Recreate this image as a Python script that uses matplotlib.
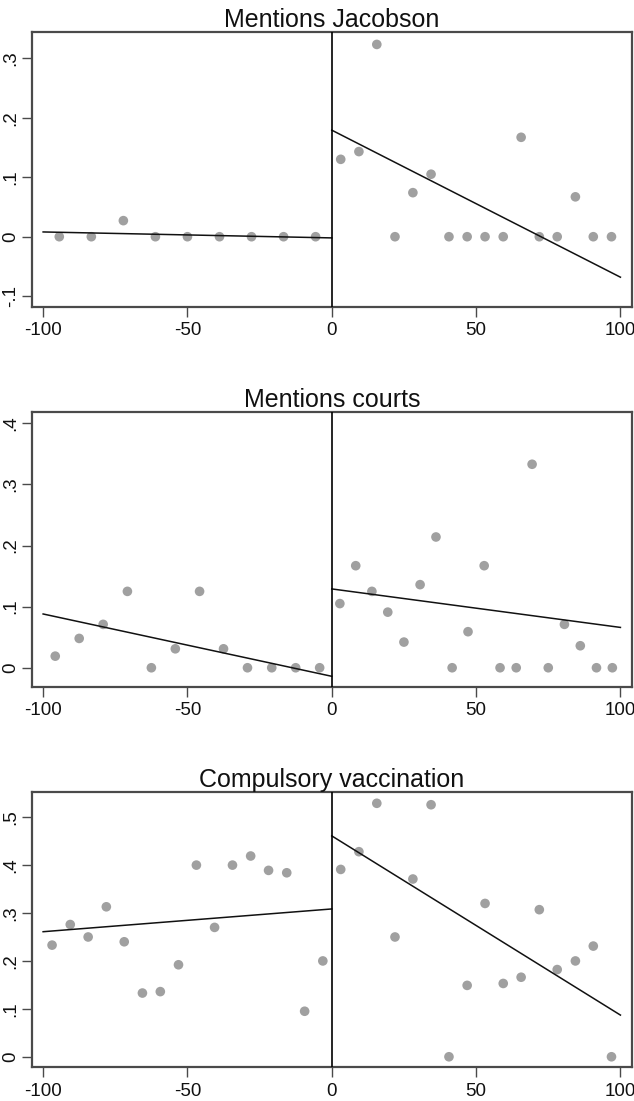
import matplotlib
matplotlib.use("Agg")
import matplotlib.pyplot as plt
from matplotlib.ticker import FuncFormatter

plt.rcParams['font.family'] = ['Liberation Sans', 'DejaVu Sans']

titles = ["Mentions Jacobson", "Mentions courts", "Compulsory vaccination"]

# Panel 1: Mentions Jacobson
p1_left_x = [-94.4, -83.3, -72.2, -61.1, -50.0, -38.9, -27.8, -16.7, -5.6]
p1_left_y = [0, 0, 0.027, 0, 0, 0, 0, 0, 0]
p1_right_x = [3.1, 9.4, 15.6, 21.9, 28.1, 34.4, 40.6, 46.9, 53.1, 59.4, 65.6, 71.9, 78.1, 84.4, 90.6, 96.9]
p1_right_y = [0.130, 0.143, 0.323, 0, 0.074, 0.105, 0, 0, 0, 0, 0.167, 0, 0, 0.067, 0, 0]
p1_fit_left = [0.008, -0.002]
p1_fit_right = [0.179, -0.068]

# Panel 2: Mentions courts
p2_left_x = [-95.8, -87.5, -79.2, -70.8, -62.5, -54.2, -45.8, -37.5, -29.2, -20.8, -12.5, -4.2]
p2_left_y = [0.019, 0.048, 0.071, 0.125, 0, 0.031, 0.125, 0.031, 0, 0, 0, 0]
p2_right_x = [2.8, 8.3, 13.9, 19.4, 25.0, 30.6, 36.1, 41.7, 47.2, 52.8, 58.3, 63.9, 69.4, 75.0, 80.6, 86.1, 91.7, 97.2]
p2_right_y = [0.105, 0.167, 0.125, 0.091, 0.042, 0.136, 0.214, 0, 0.059, 0.167, 0, 0, 0.333, 0, 0.071, 0.036, 0, 0]
p2_fit_left = [0.088, -0.014]
p2_fit_right = [0.129, 0.066]

# Panel 3: Compulsory vaccination
p3_left_x = [-96.9, -90.6, -84.4, -78.1, -71.9, -65.6, -59.4, -53.1, -46.9, -40.6, -34.4, -28.1, -21.9, -15.6, -9.4, -3.1]
p3_left_y = [0.233, 0.276, 0.250, 0.313, 0.240, 0.133, 0.136, 0.192, 0.400, 0.270, 0.400, 0.419, 0.389, 0.384, 0.095, 0.200]
p3_right_x = [3.1, 9.4, 15.6, 21.9, 28.1, 34.4, 40.6, 46.9, 53.1, 59.4, 65.6, 71.9, 78.1, 84.4, 90.6, 96.9]
p3_right_y = [0.391, 0.428, 0.529, 0.250, 0.371, 0.526, 0, 0.149, 0.320, 0.153, 0.166, 0.307, 0.182, 0.200, 0.231, 0]
p3_fit_left = [0.261, 0.3085]
p3_fit_right = [0.461, 0.087]

fit_x_left = [-100, 0]
fit_x_right = [0, 100]
x_ticks = [-100, -50, 0, 50, 100]
y_ticks = [[-0.1, 0, 0.1, 0.2, 0.3], [0, 0.1, 0.2, 0.3, 0.4], [0, 0.1, 0.2, 0.3, 0.4, 0.5]]
y_lims = [(-0.118, 0.344), (-0.031, 0.418), (-0.022, 0.552)]

panels = [
    (p1_left_x, p1_left_y, p1_right_x, p1_right_y, p1_fit_left, p1_fit_right),
    (p2_left_x, p2_left_y, p2_right_x, p2_right_y, p2_fit_left, p2_fit_right),
    (p3_left_x, p3_left_y, p3_right_x, p3_right_y, p3_fit_left, p3_fit_right),
]

def fmt(v, pos):
    if abs(v) < 1e-9:
        return "0"
    s = f"{v:g}"
    s = s.replace("0.", ".")
    return s

fig = plt.figure(figsize=(6.34, 11.01), dpi=100)
positions = [
    [0.0498, 0.7212, 0.947, 0.2498],
    [0.0498, 0.3763, 0.947, 0.2492],
    [0.0498, 0.0306, 0.947, 0.2498],
]

frame_col = "#4a4a4a"
dot_col = "#a0a0a0"

for i, (lx, ly, rx, ry, fl, fr) in enumerate(panels):
    ax = fig.add_axes(positions[i])
    ax.scatter(lx, ly, s=48, color=dot_col, edgecolors='none', zorder=2)
    ax.scatter(rx, ry, s=48, color=dot_col, edgecolors='none', zorder=2)
    ax.plot(fit_x_left, fl, color="#111111", lw=1.1, zorder=3)
    ax.plot(fit_x_right, fr, color="#111111", lw=1.1, zorder=3)
    ax.axvline(0, color="black", lw=1.2, zorder=4)
    ax.set_xlim(-104, 104)
    ax.set_ylim(*y_lims[i])
    ax.set_xticks(x_ticks)
    ax.set_xticklabels([str(t) for t in x_ticks])
    ax.set_yticks(y_ticks[i])
    ax.yaxis.set_major_formatter(FuncFormatter(fmt))
    for lab in ax.get_yticklabels():
        lab.set_rotation(90)
        lab.set_va('center')
    ax.tick_params(axis='both', direction='out', length=7, width=1.0,
                   color=frame_col, labelsize=13.5, labelcolor="#111111", pad=4)
    ax.tick_params(axis='y', pad=2)
    for sp in ax.spines.values():
        sp.set_color(frame_col)
        sp.set_linewidth(1.6)
    ax.set_title(titles[i], fontsize=18, color="#111111", pad=3)

fig.savefig("out.png", dpi=100)
